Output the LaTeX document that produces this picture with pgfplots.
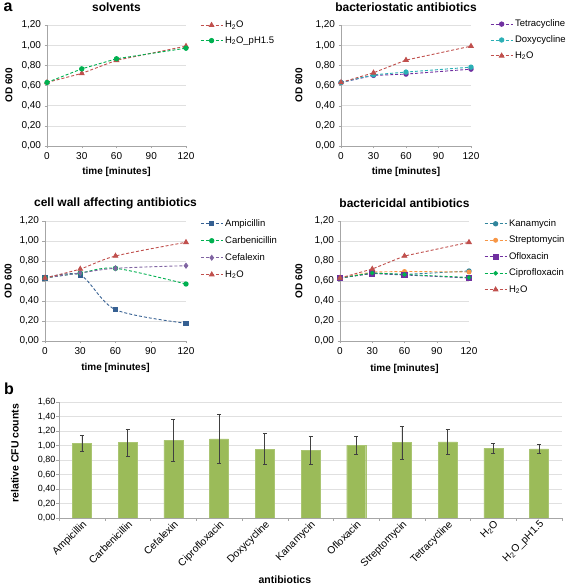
\documentclass[border=0pt]{standalone}
\usepackage{fontspec}
\setmainfont{Liberation Sans}
\usepackage{pgfplots}
\pgfplotsset{compat=1.18}
\definecolor{cH}{HTML}{C0504D}
\definecolor{cG}{HTML}{00B050}
\definecolor{cAmp}{HTML}{366092}
\definecolor{cTet}{HTML}{7030A0}
\definecolor{cDox}{HTML}{2BAFB5}
\definecolor{cCef}{HTML}{8064A2}
\definecolor{cKan}{HTML}{31859C}
\definecolor{cStr}{HTML}{F79646}
\definecolor{cBar}{HTML}{9BBB59}
\definecolor{axgray}{HTML}{A6A6A6}
\definecolor{gridgray}{HTML}{E0E0E0}
\pgfplotsset{
  panel/.style={
    scale only axis, axis lines=left, axis line style={-, draw=axgray},
    xmin=0, xmax=120, ymin=0, ymax=1.2,
    xtick={0,30,60,90,120}, ytick={0,0.2,0.4,0.6,0.8,1.0,1.2},
    ymajorgrids, grid style={gridgray},
    tick align=outside, major tick length=2.5pt, tick style={axgray},
    every tick label/.append style={font=\fontsize{10}{12}\selectfont},
    /pgf/number format/assume math mode=true,
    yticklabel style={/pgf/number format/.cd, fixed, fixed zerofill, precision=2, use comma},
    xlabel={time [minutes]}, ylabel={OD 600},
    label style={font=\bfseries\fontsize{10}{12}\selectfont},
    every axis title shift=0pt,
    title style={font=\bfseries\fontsize{12}{14}\selectfont, at={(axis description cs:0.5,1.15)}, anchor=center},
    legend style={draw=none, fill=none, font=\fontsize{9.5}{11}\selectfont, anchor=north west, inner sep=0pt},
    legend cell align=left,
    legend image code/.code={\draw[mark repeat=2,mark phase=2,#1] plot coordinates {(0pt,0pt)(11pt,0pt)(22pt,0pt)};},
    every axis plot/.append style={line width=0.9pt, dash pattern=on 3pt off 2pt},
  },
  sH/.style={color=cH, mark=triangle*, mark size=2.6pt, mark options={solid}},
  sG/.style={color=cG, mark=*, mark size=2.2pt, mark options={solid}},
}
\begin{document}
\begin{tikzpicture}[x=1pt,y=1pt]
\path[use as bounding box] (0,0) rectangle (567,588);
\node[font=\bfseries\fontsize{16}{16}\selectfont] at (8,581) {a};
\node[font=\bfseries\fontsize{16}{16}\selectfont] at (9,199) {b};

% solvents
\begin{axis}[panel, at={(47pt,442pt)}, anchor=south west, width=139pt, height=121pt,
  title={solvents},
  ylabel style={at={(axis description cs:-0.273,0.5)}, anchor=center},
  xlabel style={at={(axis description cs:0.5,-0.215)}, anchor=center},
  legend style={at={(axis description cs:1.10,1.05)}, row sep=3.3pt}]
\addplot[sH] coordinates {(0,0.63) (30,0.72) (60,0.85) (120,0.99)};
\addlegendentry{H\textsubscript{2}O}
\addplot[sG] coordinates {(0,0.63) (30,0.765) (60,0.865) (120,0.97)};
\addlegendentry{H\textsubscript{2}O\_pH1.5}
\end{axis}

% bacteriostatic
\begin{axis}[panel, at={(341pt,442pt)}, anchor=south west, width=130pt, height=121pt,
  title={bacteriostatic antibiotics},
  ylabel style={at={(axis description cs:-0.323,0.5)}, anchor=center},
  xlabel style={at={(axis description cs:0.5,-0.215)}, anchor=center},
  legend style={at={(axis description cs:1.146,1.06)}, row sep=3.5pt}]
\addplot[color=cTet, mark=*, mark size=2.2pt, mark options={solid}] coordinates {(0,0.63) (30,0.70) (60,0.713) (120,0.762)};
\addlegendentry{Tetracycline}
\addplot[color=cDox, mark=*, mark size=2.2pt, mark options={solid}] coordinates {(0,0.63) (30,0.706) (60,0.733) (120,0.782)};
\addlegendentry{Doxycycline}
\addplot[sH] coordinates {(0,0.63) (30,0.726) (60,0.852) (120,0.99)};
\addlegendentry{H\textsubscript{2}O}
\end{axis}

% cell wall
\begin{axis}[panel, at={(45pt,247pt)}, anchor=south west, width=141pt, height=120pt,
  title={cell wall affecting antibiotics},
  ylabel style={at={(axis description cs:-0.262,0.5)}, anchor=center},
  xlabel style={at={(axis description cs:0.5,-0.225)}, anchor=center},
  legend style={at={(axis description cs:1.10,1.03)}, row sep=4.6pt}]
\addplot[color=cAmp, mark=square*, mark size=2.1pt, mark options={solid}, smooth, tension=0.5] coordinates {(0,0.63) (30,0.66) (60,0.313) (120,0.177)};
\addlegendentry{Ampicillin}
\addplot[color=cG, mark=*, mark size=2.2pt, mark options={solid}, smooth, tension=0.5] coordinates {(0,0.63) (30,0.68) (60,0.727) (120,0.57)};
\addlegendentry{Carbenicillin}
\addplot[color=cCef, mark=diamond*, mark size=2.4pt, mark options={solid}, smooth, tension=0.5] coordinates {(0,0.63) (30,0.68) (60,0.727) (120,0.753)};
\addlegendentry{Cefalexin}
\addplot[sH, smooth, tension=0.5] coordinates {(0,0.63) (30,0.72) (60,0.85) (120,0.987)};
\addlegendentry{H\textsubscript{2}O}
\end{axis}

% bactericidal
\begin{axis}[panel, at={(340pt,247pt)}, anchor=south west, width=129pt, height=120pt,
  title={bactericidal antibiotics},
  ylabel style={at={(axis description cs:-0.318,0.5)}, anchor=center},
  xlabel style={at={(axis description cs:0.5,-0.233)}, anchor=center},
  legend style={at={(axis description cs:1.116,1.03)}, row sep=4.1pt}]
\addplot[color=cKan, mark=*, mark size=2.2pt, mark options={solid}] coordinates {(0,0.63) (30,0.68) (60,0.665) (120,0.70)};
\addlegendentry{Kanamycin}
\addplot[color=cStr, mark=*, mark size=2.0pt, mark options={solid}] coordinates {(0,0.63) (30,0.69) (60,0.695) (120,0.69)};
\addlegendentry{Streptomycin}
\addplot[color=cTet, mark=square*, mark size=2.6pt, mark options={solid}] coordinates {(0,0.63) (30,0.675) (60,0.66) (120,0.63)};
\addlegendentry{Ofloxacin}
\addplot[color=cG, mark=*, mark size=1.8pt, mark options={solid}] coordinates {(0,0.63) (30,0.68) (60,0.665) (120,0.635)};
\addlegendentry{Ciprofloxacin}
\addplot[sH] coordinates {(0,0.63) (30,0.72) (60,0.85) (120,0.987)};
\addlegendentry{H\textsubscript{2}O}
\end{axis}

% bar chart
\begin{axis}[scale only axis, at={(59pt,70pt)}, anchor=south west, width=503pt, height=116pt,
  axis lines=left, axis line style={-, draw=axgray},
  xmin=0.5, xmax=11.5, ymin=0, ymax=1.6,
  ytick={0,0.2,0.4,0.6,0.8,1.0,1.2,1.4,1.6},
  minor ytick={0,0.2,0.4,0.6,0.8,1.0,1.2,1.4,1.6},
  ymajorgrids, grid style={gridgray},
  xtick={1,2,3,4,5,6,7,8,9,10,11},
  xticklabels={Ampicillin, Carbenicillin, Cefalexin, Ciprofloxacin, Doxycycline, Kanamycin, Ofloxacin, Streptomycin, Tetracycline, H\textsubscript{2}O, H\textsubscript{2}O\_pH1.5},
  minor xtick={0.5,1.5,2.5,3.5,4.5,5.5,6.5,7.5,8.5,9.5,10.5,11.5},
  tick align=outside, tick style={axgray},
  major tick length=0pt, minor tick length=3pt,
  /pgf/number format/assume math mode=true,
  yticklabel style={font=\fontsize{9}{11}\selectfont, /pgf/number format/.cd, fixed, fixed zerofill, precision=2, use comma},
  xticklabel style={font=\fontsize{10.3}{12}\selectfont, rotate=45, anchor=north east, inner sep=1pt},
  xlabel={antibiotics}, ylabel={relative CFU counts},
  label style={font=\bfseries\fontsize{10.5}{12}\selectfont},
  xlabel style={at={(axis description cs:0.449,-0.53)}, anchor=center},
  ylabel style={at={(axis description cs:-0.0875,0.558)}, anchor=center},
  ]
\addplot[ybar, bar width=19pt, fill=cBar, draw=cBar!85!white,
  error bars/.cd, y dir=both, y explicit,
  error bar style={black!75, line width=0.6pt},
  error mark options={rotate=90, mark size=2pt, black!75, line width=0.6pt}]
  coordinates {
  (1,1.03) +- (0,0.105)
  (2,1.04) +- (0,0.19)
  (3,1.07) +- (0,0.29)
  (4,1.09) +- (0,0.34)
  (5,0.95) +- (0,0.215)
  (6,0.93) +- (0,0.19)
  (7,1.00) +- (0,0.12)
  (8,1.04) +- (0,0.23)
  (9,1.05) +- (0,0.17)
  (10,0.96) +- (0,0.07)
  (11,0.955) +- (0,0.06)
  };
\end{axis}
\end{tikzpicture}
\end{document}
